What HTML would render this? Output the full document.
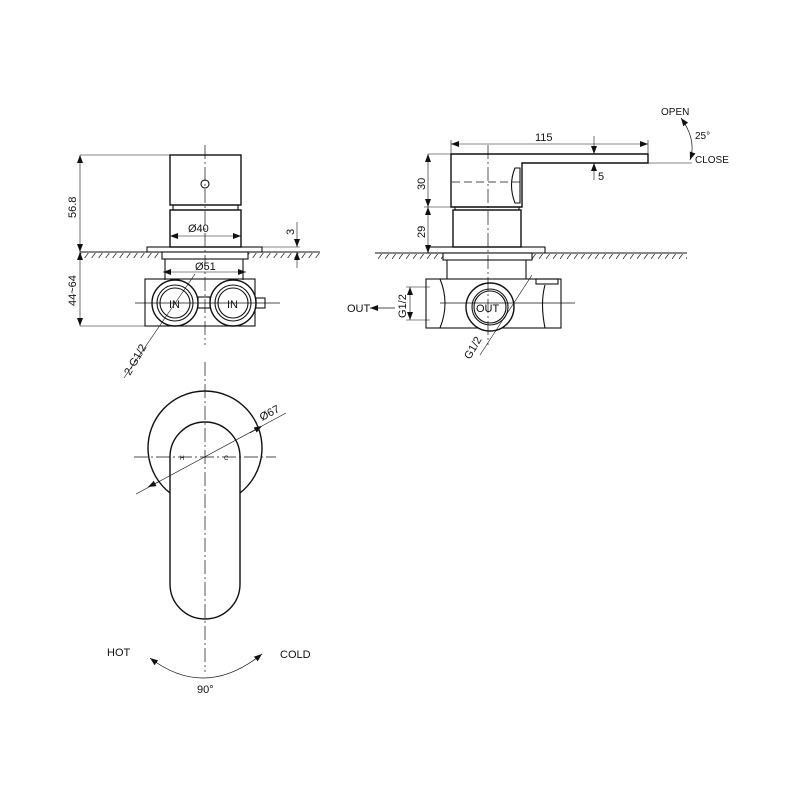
<!DOCTYPE html>
<html><head><meta charset="utf-8"><style>
html,body{margin:0;padding:0;background:#fff}
svg{display:block}
text{font-family:"Liberation Sans",sans-serif;fill:#111}
</style></head><body>
<svg width="800" height="800" viewBox="0 0 800 800" xmlns="http://www.w3.org/2000/svg">
<defs>
<pattern id="h" width="7" height="7" patternUnits="userSpaceOnUse">
<line x1="0" y1="7" x2="5" y2="0" stroke="#333" stroke-width="0.8"/>
</pattern>
<marker id="a" markerWidth="8" markerHeight="6" refX="8" refY="3" orient="auto-start-reverse" markerUnits="userSpaceOnUse"><path d="M0,0 L8,3 L0,6z" fill="#111"/></marker>
</defs>
<g fill="none" stroke="#111" stroke-width="1.1">
<!-- LEFT TOP VIEW -->
<line x1="80" y1="252" x2="320" y2="252"/>
<rect x="80" y="253" width="240" height="5" fill="url(#h)" stroke="none"/>
<rect x="170" y="155" width="71" height="50" stroke-width="1.4"/>
<rect x="173" y="205" width="65" height="5"/>
<rect x="170" y="210" width="71" height="37" stroke-width="1.4"/>
<rect x="147" y="247" width="115" height="5"/>
<rect x="162" y="252" width="86" height="7" fill="#fff"/>
<line x1="165" y1="259" x2="165" y2="280"/><line x1="243" y1="259" x2="243" y2="280"/>
<rect x="145" y="279" width="110" height="47"/>
<circle cx="175" cy="303" r="23" fill="#fff" stroke-width="1.4"/>
<circle cx="175" cy="303" r="18"/><circle cx="175" cy="303" r="15"/>
<circle cx="233" cy="303" r="23" fill="#fff" stroke-width="1.4"/>
<circle cx="233" cy="303" r="18"/><circle cx="233" cy="303" r="15"/>
<rect x="198" y="297" width="12" height="11"/>
<rect x="256" y="298" width="9" height="10"/>
<circle cx="205" cy="184" r="4"/>
<line x1="205" y1="145" x2="205" y2="345" stroke-dasharray="14,3,2,3" stroke-width="0.7"/>
<line x1="135" y1="303" x2="280" y2="303" stroke-width="0.7"/>
<!-- dims left -->
<line x1="80" y1="155" x2="170" y2="155" stroke-width="0.6"/>
<line x1="80" y1="155" x2="80" y2="252" marker-start="url(#a)" marker-end="url(#a)" stroke-width="0.6"/>
<line x1="80" y1="252" x2="80" y2="326" marker-start="url(#a)" marker-end="url(#a)" stroke-width="0.6"/>
<line x1="80" y1="326" x2="150" y2="326" stroke-width="0.6"/>
<line x1="170" y1="236" x2="241" y2="236" marker-start="url(#a)" marker-end="url(#a)" stroke-width="0.6"/>
<line x1="163" y1="272" x2="246" y2="272" marker-start="url(#a)" marker-end="url(#a)" stroke-width="0.6"/>
<line x1="262" y1="247" x2="300" y2="247" stroke-width="0.6"/>
<line x1="297" y1="222" x2="297" y2="247" marker-end="url(#a)" stroke-width="0.6"/>
<line x1="297" y1="268" x2="297" y2="252" marker-end="url(#a)" stroke-width="0.6"/>
<line x1="124" y1="378" x2="195" y2="274" stroke-width="0.6"/>
<!-- RIGHT TOP VIEW -->
<line x1="375" y1="253" x2="687" y2="253"/>
<rect x="375" y="254" width="312" height="5" fill="url(#h)" stroke="none"/>
<path d="M451,154 H648 V163 H522 V207 H451 Z" stroke-width="1.4"/>
<path d="M515,168 Q508,185 515,203 L520,203 L520,168 Z"/>
<rect x="455" y="207" width="64" height="3"/>
<rect x="453" y="210" width="68" height="37" stroke-width="1.4"/>
<rect x="428" y="247" width="117" height="6"/>
<rect x="443" y="253" width="89" height="7" fill="#fff"/>
<line x1="447" y1="260" x2="447" y2="279"/><line x1="526" y1="260" x2="526" y2="279"/>
<rect x="426" y="279" width="135" height="49"/>
<path d="M440,279 Q450,303 440,328"/><path d="M545,285 Q540,303 545,328"/>
<rect x="536" y="279" width="22" height="5"/>
<circle cx="490" cy="307" r="24" fill="#fff" stroke-width="1.4"/>
<circle cx="490" cy="307" r="18"/><circle cx="490" cy="307" r="16"/>
<line x1="488" y1="145" x2="488" y2="345" stroke-dasharray="14,3,2,3" stroke-width="0.7"/>
<line x1="452" y1="182" x2="520" y2="182" stroke-dasharray="8,4" stroke-width="0.7"/>
<line x1="440" y1="303" x2="575" y2="303" stroke-width="0.7"/>
<line x1="451" y1="144" x2="648" y2="144" marker-start="url(#a)" marker-end="url(#a)" stroke-width="0.6"/>
<line x1="451" y1="140" x2="451" y2="154" stroke-width="0.6"/><line x1="648" y1="140" x2="648" y2="154" stroke-width="0.6"/>
<line x1="594" y1="136" x2="594" y2="154" marker-end="url(#a)" stroke-width="0.6"/>
<line x1="594" y1="180" x2="594" y2="163" marker-end="url(#a)" stroke-width="0.6"/>
<line x1="648" y1="163" x2="692" y2="163" stroke-width="0.6"/>
<line x1="428" y1="154" x2="451" y2="154" stroke-width="0.6"/>
<line x1="428" y1="154" x2="428" y2="207" marker-start="url(#a)" marker-end="url(#a)" stroke-width="0.6"/>
<line x1="428" y1="207" x2="428" y2="253" marker-start="url(#a)" marker-end="url(#a)" stroke-width="0.6"/>
<line x1="424" y1="207" x2="453" y2="207" stroke-width="0.6"/>
<line x1="410" y1="287" x2="410" y2="320" marker-start="url(#a)" marker-end="url(#a)" stroke-width="0.6"/>
<line x1="406" y1="287" x2="430" y2="287" stroke-width="0.6"/><line x1="406" y1="320" x2="430" y2="320" stroke-width="0.6"/>
<line x1="395" y1="308" x2="370" y2="308" marker-end="url(#a)" stroke-width="0.8"/>
<line x1="480" y1="355" x2="532" y2="275" stroke-width="0.6"/>
<path d="M681,118 Q697,140 690,160" marker-start="url(#a)" marker-end="url(#a)" stroke-width="0.7"/>
<!-- BOTTOM VIEW -->
<path d="M170,493 A57,57 0 1 1 240,493" stroke-width="1.4"/>
<path d="M170,457 A35,35 0 0 1 240,457 V584 A35,35 0 0 1 170,584 Z" stroke-width="1.4"/>
<line x1="205" y1="362" x2="205" y2="672" stroke-dasharray="14,3,2,3" stroke-width="0.7"/>
<line x1="134" y1="457" x2="276" y2="457" stroke-dasharray="14,3,2,3" stroke-width="0.7"/>
<line x1="136" y1="494" x2="286" y2="413" stroke-width="0.6"/>
<line x1="160" y1="481" x2="148" y2="487" marker-end="url(#a)" stroke-width="0.6"/>
<line x1="250" y1="433" x2="262" y2="426" marker-end="url(#a)" stroke-width="0.6"/>
<path d="M150,658 Q205,700 262,654" marker-start="url(#a)" marker-end="url(#a)" stroke-width="0.7"/>
</g>
<g font-size="11">
<text x="0" y="0" transform="translate(76,218) rotate(-90)">56.8</text>
<text x="0" y="0" transform="translate(76,306) rotate(-90)">44~64</text>
<text x="188" y="232">Ø40</text>
<text x="195" y="270">Ø51</text>
<text x="0" y="0" transform="translate(294,235) rotate(-90)">3</text>
<text x="0" y="0" transform="translate(130,376) rotate(-60)">2-G1/2</text>
<text x="169" y="308" font-family="Liberation Serif" font-size="11">IN</text>
<text x="227" y="308" font-family="Liberation Serif" font-size="11">IN</text>
<text x="535" y="141">115</text>
<text x="598" y="180">5</text>
<text x="0" y="0" transform="translate(425,190) rotate(-90)">30</text>
<text x="0" y="0" transform="translate(425,238) rotate(-90)">29</text>
<text x="0" y="0" transform="translate(406,318) rotate(-90)">G1/2</text>
<text x="0" y="0" transform="translate(470,360) rotate(-60)">G1/2</text>
<text x="347" y="312">OUT</text>
<text x="476" y="312" font-family="Liberation Serif" font-size="11">OUT</text>
<text x="661" y="115" font-size="10">OPEN</text>
<text x="695" y="139" font-size="10">25°</text>
<text x="695" y="163" font-size="10">CLOSE</text>
<text x="0" y="0" transform="translate(262,421) rotate(-28)">Ø67</text>
<text x="180" y="460" font-size="6">H</text>
<text x="224" y="460" font-size="6">C</text>
<text x="107" y="656">HOT</text>
<text x="280" y="658">COLD</text>
<text x="197" y="693">90°</text>
</g>
</svg>
</body></html>
